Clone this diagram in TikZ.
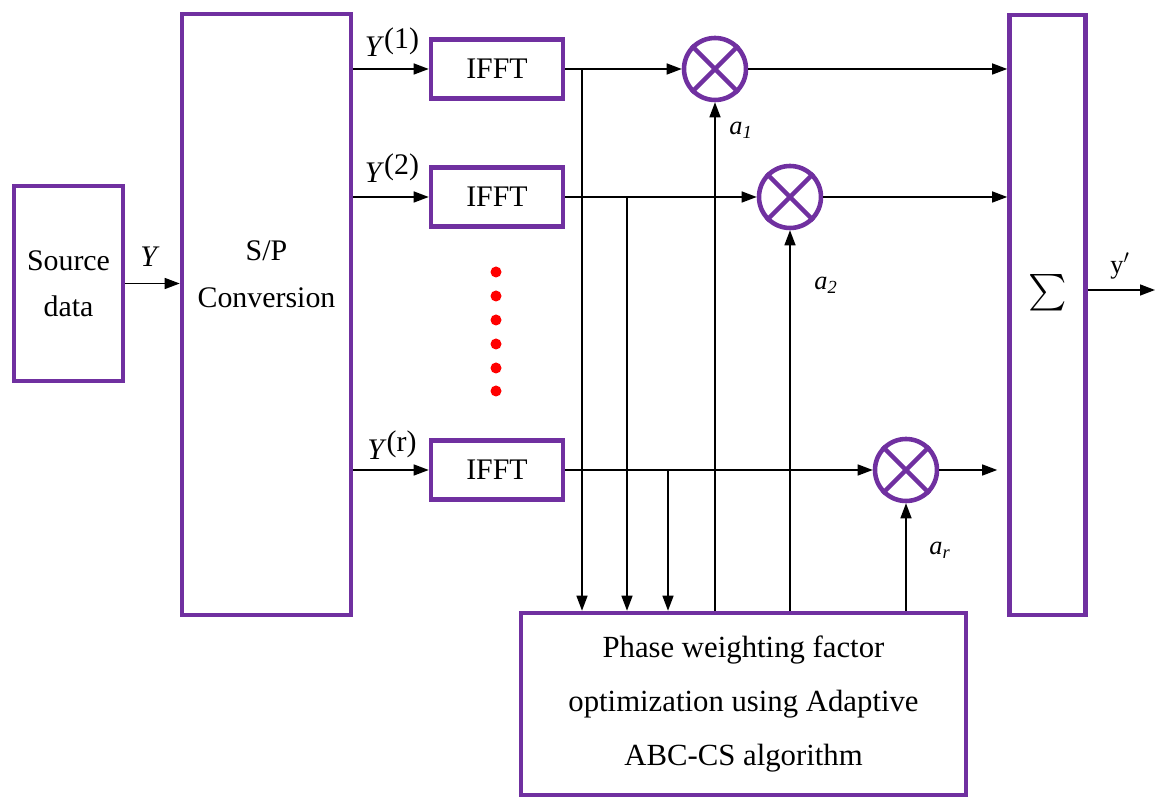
\documentclass[tikz,border=0pt]{standalone}
\usepackage{amsmath,amssymb}
\usepackage{exscale}
\usepackage{fontspec}
\setmainfont{Liberation Serif}
\usepackage{xcolor}
\usetikzlibrary{arrows.meta,positioning}
\definecolor{boxpurple}{RGB}{112,48,160}
\newcommand{\ysup}[1]{\textit{Y}\raisebox{0.55ex}{(#1)}}

\begin{document}
\begin{tikzpicture}[
    blk/.style={rectangle, draw=boxpurple, line width=2.6pt, fill=white,
                align=center, font=\fontsize{17}{25}\selectfont},
    mixer/.style={circle, draw=boxpurple, line width=2.6pt, fill=white,
                  minimum size=1.24cm, inner sep=0pt},
    lbl/.style={font=\fontsize{17}{20}\selectfont},
    sublbl/.style={font=\fontsize{15}{18}\selectfont},
    arr/.style={-{Triangle[length=0.3cm,width=0.22cm]}, line width=0.8pt},
    dotnode/.style={circle, fill=red, minimum size=0.22cm, inner sep=0pt}
]
\useasboundingbox (0,0) rectangle (23.2,15.96);

% input side
\node[blk, minimum width=2.18cm, minimum height=3.9cm] (src) at (1.37,10.29)
    {Source\\[0.05cm]data};
\node[blk, minimum width=3.38cm, minimum height=12.02cm,
      label={[align=center, font=\fontsize{17}{27}\selectfont, yshift=0.81cm]center:S/P\\Conversion}]
    (sp) at (5.33,9.67) {};
\draw[arr] (src) -- (src -| sp.west);
\node[lbl] (ylab) at (3.0,10.82) {\textit{Y}};

% IFFT branches
\node[blk, minimum width=2.64cm, minimum height=1.18cm] (ifft1) at (9.94,14.58) {IFFT};
\node[blk, minimum width=2.64cm, minimum height=1.18cm] (ifft2) at (9.94,12.02) {IFFT};
\node[blk, minimum width=2.64cm, minimum height=1.18cm] (ifftr) at (9.94,6.56) {IFFT};
\draw[arr] (sp.east |- ifft1) -- (ifft1);
\draw[arr] (sp.east |- ifft2) -- (ifft2);
\draw[arr] (sp.east |- ifftr) -- (ifftr);
\node[lbl] (y1) at (7.84,15.12) {\ysup{1}};
\node[lbl] (y2) at (7.84,12.6) {\ysup{2}};
\node[lbl] (yr) at (7.84,7.06) {\ysup{r}};

% red dots between branches
\foreach \i/\y in {1/10.52, 2/10.04, 3/9.56, 4/9.08, 5/8.6, 6/8.14}
    \node[dotnode] (dot\i) at (9.92,\y) {};

% multipliers
\node[mixer] (mul1) at (14.3,14.58) {};
\node[mixer] (mul2) at (15.8,12.02) {};
\node[mixer] (mulr) at (18.12,6.56) {};
\foreach \m in {mul1, mul2, mulr} {
    \draw[boxpurple, line width=2.6pt] (\m.north east) -- (\m.south west);
    \draw[boxpurple, line width=2.6pt] (\m.north west) -- (\m.south east);
}
\draw[arr] (ifft1) -- (mul1);
\draw[arr] (ifft2) -- (mul2);
\draw[arr] (ifftr) -- (mulr);

% summation and output
\node[blk, minimum width=1.52cm, minimum height=12.0cm,
      label={[font=\fontsize{22}{26}\selectfont, yshift=0.44cm]center:$\sum$}]
    (sum) at (20.95,9.66) {};
\draw[arr] (mul1) -- (mul1 -| sum.west);
\draw[arr] (mul2) -- (mul2 -| sum.west);
\draw[arr] (mulr) -- ([xshift=-0.2cm]mulr -| sum.west);
\coordinate (out) at (23.1,10.16);
\draw[arr] (out -| sum.east) -- (out);
\node[sublbl] (yout) at (22.4,10.64) {y$'$};

% optimizer
\node[blk, minimum width=8.9cm, minimum height=3.64cm,
      font=\fontsize{17.5}{30.5}\selectfont] (pwf) at (14.87,1.88)
    {Phase weighting factor\\optimization using Adaptive\\ABC-CS algorithm};
\coordinate (t1) at (11.64,14.58);
\coordinate (t2) at (12.54,12.02);
\coordinate (tr) at (13.36,6.56);
\draw[arr] (t1) -- (t1 |- pwf.north);
\draw[arr] (t2) -- (t2 |- pwf.north);
\draw[arr] (tr) -- (tr |- pwf.north);
\draw[arr] (pwf.north -| mul1) -- (mul1);
\draw[arr] (pwf.north -| mul2) -- (mul2);
\draw[arr] (pwf.north -| mulr) -- (mulr);
\node[sublbl] (a1) at (14.82,13.36) {\textit{a}\textsubscript{\textit{1}}};
\node[sublbl] (a2) at (16.52,10.26) {\textit{a}\textsubscript{\textit{2}}};
\node[sublbl] (ar) at (18.8,4.96) {\textit{a}\textsubscript{\textit{r}}};
\end{tikzpicture}
\end{document}
